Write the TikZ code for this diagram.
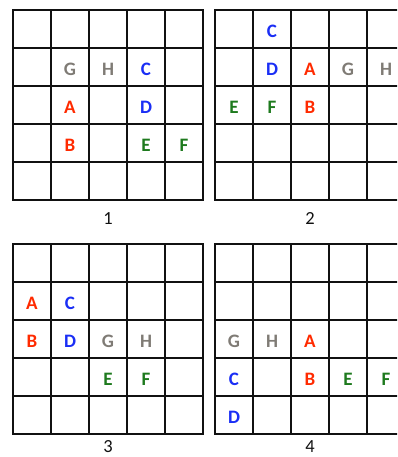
\documentclass[tikz,border=0pt]{standalone}
\usepackage{fontspec}
\setmainfont{Carlito}
\definecolor{Ink}{HTML}{111111}
\definecolor{RedColor}{HTML}{FF2A00}
\definecolor{BlueColor}{HTML}{1A2EF5}
\definecolor{GreenColor}{HTML}{1E7A1E}
\definecolor{GrayColor}{HTML}{7F7B75}
\tikzset{
  board line/.style={draw=Ink, line width=1.8pt, line cap=rect},
  piece/.style={font=\bfseries\fontsize{19}{22}\selectfont, inner sep=0pt, yshift=-2pt},
  red piece/.style={piece, text=RedColor},
  blue piece/.style={piece, text=BlueColor},
  green piece/.style={piece, text=GreenColor},
  gray piece/.style={piece, text=GrayColor},
  board label/.style={font=\fontsize{18.5}{22}\selectfont, text=Ink, inner sep=0pt},
}

\begin{document}
\begin{tikzpicture}[x=1pt, y=1pt]
  \useasboundingbox (0,0) rectangle (397,457);
  \clip (0,0) rectangle (397,457);

  % four 5x5 boards, lower left corners
  \foreach \bx/\by in {13/257, 215/257, 13/23, 215/23} {
    \foreach \k in {0,...,5} {
      \draw[board line] (\bx+\k*38, \by) -- (\bx+\k*38, \by+190);
      \draw[board line] (\bx, \by+\k*38) -- (\bx+190, \by+\k*38);
    }
  }

  % board 1
  \node[gray piece]  (oneG) at (70,390) {G};
  \node[gray piece]  (oneH) at (108,390) {H};
  \node[blue piece]  (oneC) at (146,390) {C};
  \node[red piece]   (oneA) at (70,352) {A};
  \node[blue piece]  (oneD) at (146,352) {D};
  \node[red piece]   (oneB) at (70,314) {B};
  \node[green piece] (oneE) at (146,314) {E};
  \node[green piece] (oneF) at (184,314) {F};

  % board 2
  \node[blue piece]  (twoC) at (272,428) {C};
  \node[blue piece]  (twoD) at (272,390) {D};
  \node[red piece]   (twoA) at (310,390) {A};
  \node[gray piece]  (twoG) at (348,390) {G};
  \node[gray piece]  (twoH) at (386,390) {H};
  \node[green piece] (twoE) at (234,352) {E};
  \node[green piece] (twoF) at (272,352) {F};
  \node[red piece]   (twoB) at (310,352) {B};

  % board 3
  \node[red piece]   (threeA) at (32,156) {A};
  \node[blue piece]  (threeC) at (70,156) {C};
  \node[red piece]   (threeB) at (32,118) {B};
  \node[blue piece]  (threeD) at (70,118) {D};
  \node[gray piece]  (threeG) at (108,118) {G};
  \node[gray piece]  (threeH) at (146,118) {H};
  \node[green piece] (threeE) at (108,80) {E};
  \node[green piece] (threeF) at (146,80) {F};

  % board 4
  \node[gray piece]  (fourG) at (234,118) {G};
  \node[gray piece]  (fourH) at (272,118) {H};
  \node[red piece]   (fourA) at (310,118) {A};
  \node[blue piece]  (fourC) at (234,80) {C};
  \node[red piece]   (fourB) at (310,80) {B};
  \node[green piece] (fourE) at (348,80) {E};
  \node[green piece] (fourF) at (386,80) {F};
  \node[blue piece]  (fourD) at (234,42) {D};

  \node[board label] (labelOne) at (108,238) {1};
  \node[board label] (labelTwo) at (310,238) {2};
  \node[board label] (labelThree) at (108,10) {3};
  \node[board label] (labelFour) at (310,10) {4};
\end{tikzpicture}
\end{document}
